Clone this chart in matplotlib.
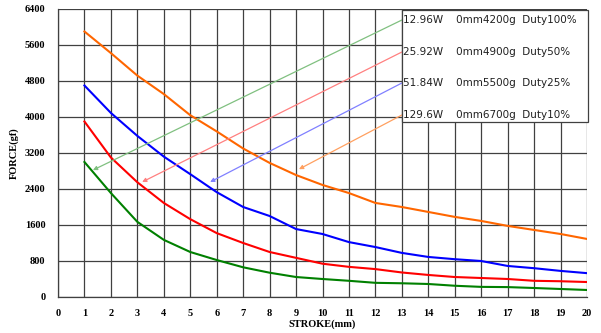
import numpy as np
import matplotlib.pyplot as plt
from matplotlib.patches import Rectangle

stroke = list(range(1, 21))

force_129w = [5900, 5420, 4920, 4510, 4040, 3680, 3300, 2980, 2710, 2490,
              2310, 2090, 2000, 1890, 1780, 1690, 1580, 1490, 1400, 1290]
force_51w = [4700, 4090, 3580, 3120, 2730, 2330, 2000, 1800, 1510, 1400,
             1220, 1110, 980, 890, 840, 800, 690, 640, 580, 530]
force_25w = [3900, 3100, 2550, 2090, 1730, 1420, 1200, 1000, 870, 740,
             670, 620, 545, 490, 444, 422, 400, 360, 350, 333]
force_12w = [3000, 2310, 1670, 1270, 1000, 822, 660, 540, 444, 400,
             360, 315, 305, 289, 250, 225, 220, 200, 178, 156]

legend_lines = ["12.96W    0mm4200g  Duty100%",
                "25.92W    0mm4900g  Duty50%",
                "51.84W    0mm5500g  Duty25%",
                "129.6W    0mm6700g  Duty10%"]
# arrow tips (stroke, force) pointing at each curve
arrow_tips = [(1.32, 2820), (3.18, 2555), (5.75, 2555), (9.11, 2840)]
arrow_starts_y = [6155, 5444, 4755, 4044]

curves = [(force_129w, "#ff6600"), (force_51w, "#0000ff"),
          (force_25w, "#ff0000"), (force_12w, "#008000")]
arrow_colors = ["#80c080", "#ff8080", "#8080ff", "#ffa060"]

fig = plt.figure(figsize=(6.01, 3.33), dpi=100)
ax = fig.add_axes([58 / 601, 1 - 297 / 333, 529 / 601, 288 / 333])

for ys, c in curves:
    ax.plot(stroke, ys, color=c, lw=1.5, zorder=3)

ax.set_xlim(0, 20)
ax.set_ylim(0, 6400)
ax.set_xticks(range(0, 21))
ax.set_yticks(range(0, 6401, 800))
ax.grid(True, color="#404040", lw=0.9)
ax.set_axisbelow(True)
for s in ["top", "right"]:
    ax.spines[s].set_visible(False)
for s in ["left", "bottom"]:
    ax.spines[s].set_color("#404040")
    ax.spines[s].set_linewidth(0.9)
ax.tick_params(length=0, pad=9)
for lab in ax.get_xticklabels() + ax.get_yticklabels():
    lab.set_fontfamily("Liberation Serif")
    lab.set_fontweight("bold")
    lab.set_fontsize(7.5)

ax.set_xlabel("STROKE(mm)", fontfamily="Liberation Serif", fontweight="bold",
              fontsize=7.5, labelpad=1)
ax.set_ylabel("FORCE(gf)", fontfamily="Liberation Serif", fontweight="bold",
              fontsize=7.5, labelpad=4)

# legend box
box = Rectangle((0.650, 0.608), 0.352, 0.389, transform=ax.transAxes,
                facecolor="white", edgecolor="#404040", lw=0.9, zorder=5,
                clip_on=False)
ax.add_patch(box)
for i, txt in enumerate(legend_lines):
    ax.text(13.05, arrow_starts_y[i], txt, fontsize=7.5, color="#202020",
            fontfamily="DejaVu Sans", va="center", ha="left", zorder=6)

for tip, sy, c in zip(arrow_tips, arrow_starts_y, arrow_colors):
    ax.annotate("", xy=tip, xytext=(13.0, sy),
                arrowprops=dict(arrowstyle="-|>", color=c, lw=0.9,
                                mutation_scale=6, shrinkA=0, shrinkB=0),
                zorder=4)

fig.savefig("out.png", dpi=100)
